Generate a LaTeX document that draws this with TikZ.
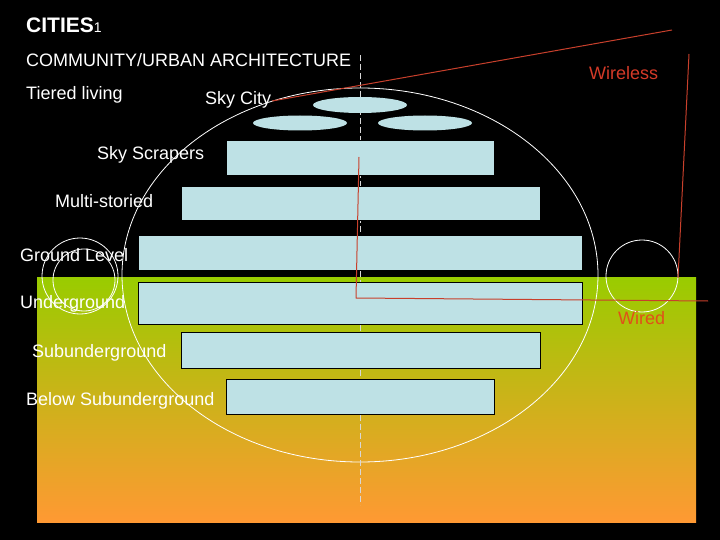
\documentclass[tikz,border=0pt]{standalone}
\usepackage{fontspec}
\setmainfont{Liberation Sans}
\usetikzlibrary{shapes.geometric}
\definecolor{bluefill}{RGB}{190,225,229}
\definecolor{redline}{RGB}{200,64,44}
\definecolor{wirelesscol}{RGB}{212,58,40}
\definecolor{wiredcol}{RGB}{225,80,25}
\definecolor{limegreen}{RGB}{153,204,0}
\definecolor{orangebot}{RGB}{255,153,51}
\definecolor{axisgray}{RGB}{215,215,215}
\begin{document}
\begin{tikzpicture}[x=1pt,y=-1pt,
  lbl/.style={anchor=base west, inner sep=0pt, text=white, font=\fontsize{18}{20}\selectfont},
  tier/.style={draw=black, line width=1pt, fill=bluefill, rectangle, inner sep=0pt},
  disc/.style={ellipse, fill=bluefill, inner sep=0pt, minimum width=94pt, minimum height=16pt},
  ring/.style={draw=white, line width=0.8pt},
  wire/.style={draw=redline, line width=1pt, line join=round}]
\fill[black] (0,0) rectangle (720,540);
\useasboundingbox (0,0) rectangle (720,540);
% ground gradient
\shade[top color=limegreen, bottom color=orangebot] (37,277) rectangle (696,522);
% circles
\draw[ring] (80,276) circle[radius=38pt];
\draw[ring] (84,280) circle[radius=31pt];
\draw[ring] (642,276) circle[radius=36pt];
\draw[ring] (360,275) ellipse[x radius=238pt, y radius=187pt];
% axis
\coordinate (axtop) at (360,55);
\coordinate (axbot) at (360,505);
\draw[axisgray, line width=0.8pt, dash pattern=on 6pt off 3pt] (axtop) -- (axbot);
% sky city discs
\node[disc] (skytop) at (360,105) {};
\node[disc, minimum height=15pt] (skyleft) at (300,123) {};
\node[disc, minimum height=15pt] (skyright) at (425,123) {};
% tiers
\node[tier, minimum width=268pt, minimum height=35pt] (scrapers) at (360,158.5) {};
\node[tier, minimum width=359pt, minimum height=34pt] (multi) at (360.5,204) {};
\node[tier, minimum width=444pt, minimum height=35pt] (ground) at (360,252.5) {};
\node[tier, minimum width=444pt, minimum height=42pt] (under) at (360,303) {};
\node[tier, minimum width=359pt, minimum height=36pt] (subunder) at (360.5,350) {};
\node[tier, minimum width=268pt, minimum height=35pt] (below) at (360,396.5) {};
% red wires
\coordinate (w1a) at (272,101);
\coordinate (w1b) at (672,30);
\coordinate (w2a) at (689,54);
\coordinate (w2b) at (678,278);
\coordinate (w3a) at (359,157);
\coordinate (w3b) at (356,298);
\coordinate (w3c) at (708,301);
\draw[wire] (w1a) -- (w1b);
\draw[wire] (w2a) -- (w2b);
\draw[wire] (w3a) -- (w3b) -- (w3c);
% texts
\node[anchor=base west, inner sep=0pt, text=white, font=\bfseries\fontsize{21}{24}\selectfont] (title) at (26,33) {CITIES\mdseries\fontsize{14}{16}\selectfont 1};
\node[lbl] (community) at (26,67) {COMMUNITY/URBAN ARCHITECTURE};
\node[lbl] (tiered) at (26,100) {Tiered living};
\node[lbl] (skycity) at (205,105) {Sky City};
\node[lbl] (tscrapers) at (97,160) {Sky Scrapers};
\node[lbl] (tmulti) at (55,207.5) {Multi-storied};
\node[lbl] (tground) at (20,261) {Ground Level};
\node[lbl] (tunder) at (20,308.5) {Underground};
\node[lbl] (tsubunder) at (32,357) {Subunderground};
\node[lbl] (tbelow) at (26,405) {Below Subunderground};
\node[lbl, text=wirelesscol] (wireless) at (589,79.5) {Wireless};
\node[lbl, text=wiredcol] (wired) at (618,324) {Wired};
\end{tikzpicture}
\end{document}
